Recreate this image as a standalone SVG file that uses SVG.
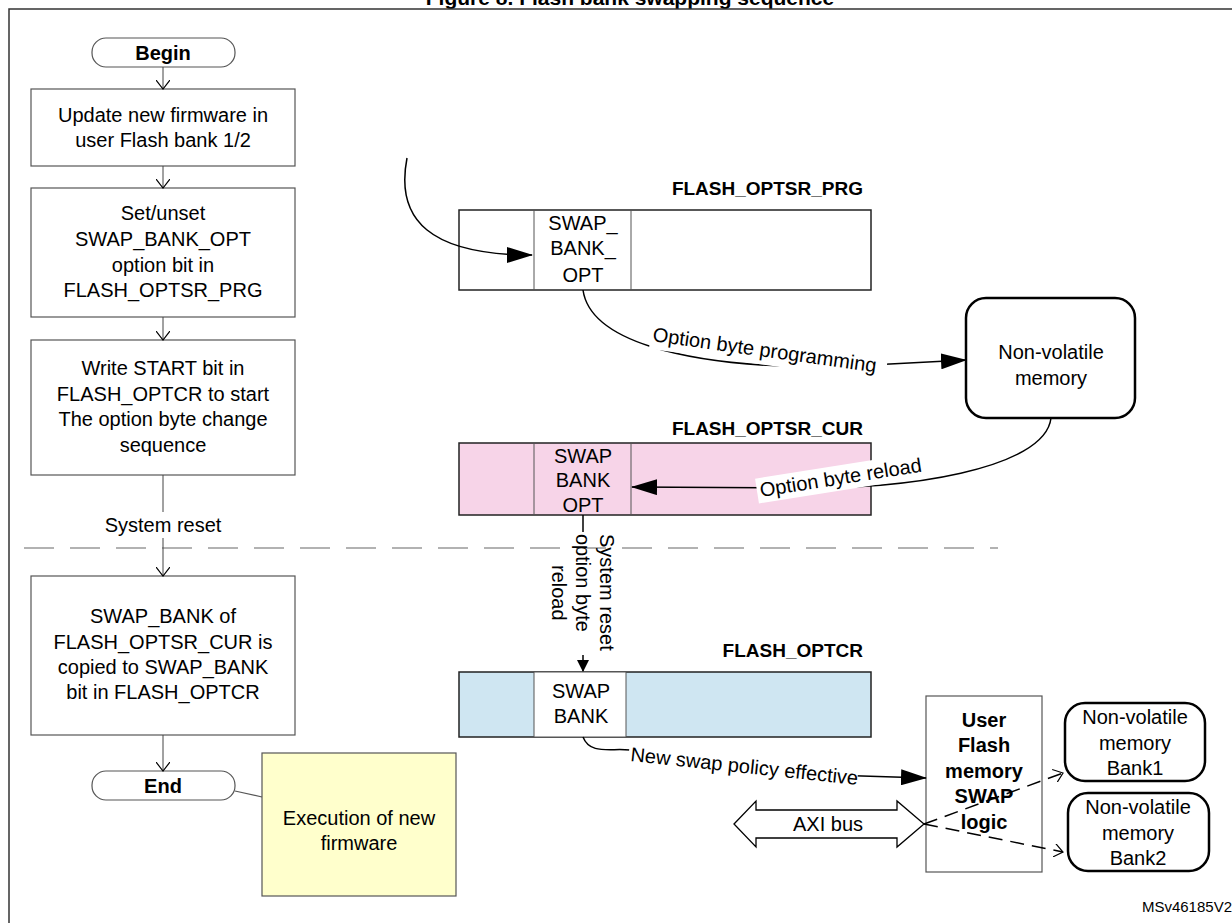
<svg xmlns="http://www.w3.org/2000/svg" width="1232" height="923" viewBox="0 0 1232 923">
<defs>
<marker id="fa" markerWidth="12" markerHeight="12" refX="11" refY="6" orient="auto" markerUnits="userSpaceOnUse"><path d="M0,0 L12,6 L0,12 z" fill="#000"/></marker>
<marker id="oa" markerWidth="10" markerHeight="14" refX="9" refY="7" orient="auto" markerUnits="userSpaceOnUse"><path d="M0,0 L9,7 L0,14" fill="none" stroke="#000" stroke-width="1.2"/></marker>
<marker id="big" markerWidth="26" markerHeight="16" refX="25" refY="8" orient="auto" markerUnits="userSpaceOnUse"><path d="M0,0 L26,8 L0,16 z" fill="#000"/></marker>
</defs>
<style>
text{font-family:"Liberation Sans",Arial,sans-serif;fill:#000}
.t{font-size:20px;text-anchor:middle}
.b{font-size:20px;font-weight:bold;text-anchor:middle}
.r{font-size:19px;font-weight:bold;text-anchor:end}
.box{fill:#fff;stroke:#555;stroke-width:1.2}
.reg{stroke:#222;stroke-width:1.5}
.ln{fill:none;stroke:#000;stroke-width:1.5}
.thin{fill:none;stroke:#444;stroke-width:1}
</style>
<rect width="1232" height="923" fill="#fff"/>
<text x="630" y="5" font-size="21" font-weight="bold" text-anchor="middle">Figure 8. Flash bank swapping sequence</text>
<path d="M9,923 V9 H1232" fill="none" stroke="#333" stroke-width="1.5"/>
<line x1="24" y1="548" x2="998" y2="548" stroke="#999" stroke-width="1.3" stroke-dasharray="30,16"/>

<g id="begin"><rect x="92" y="38" width="143" height="29" rx="14" class="box"/><text x="163" y="60" class="b">Begin</text></g>
<g id="step1"><rect x="31" y="89" width="264" height="77" class="box"/><text x="163" y="122" class="t">Update new firmware in</text><text x="163" y="147" class="t">user Flash bank 1/2</text></g>
<g id="step2"><rect x="31" y="188" width="264" height="129" class="box"/><text x="163" y="220" class="t">Set/unset</text><text x="163" y="246" class="t">SWAP_BANK_OPT</text><text x="163" y="272" class="t">option bit in</text><text x="163" y="297" class="t">FLASH_OPTSR_PRG</text></g>
<g id="step3"><rect x="31" y="340" width="264" height="135" class="box"/><text x="163" y="375" class="t">Write START bit in</text><text x="163" y="401" class="t">FLASH_OPTCR to start</text><text x="163" y="426" class="t">The option byte change</text><text x="163" y="452" class="t">sequence</text></g>
<g id="sysreset"><text x="163" y="532" class="t">System reset</text></g>
<g id="step4"><rect x="31" y="576" width="264" height="159" class="box"/><text x="163" y="623" class="t">SWAP_BANK of</text><text x="163" y="649" class="t">FLASH_OPTSR_CUR is</text><text x="163" y="674" class="t">copied to SWAP_BANK</text><text x="163" y="699" class="t">bit in FLASH_OPTCR</text></g>
<g id="end"><rect x="92" y="771" width="143" height="29" rx="14" class="box"/><text x="163" y="793" class="b">End</text></g>
<g id="exec"><rect x="262" y="753" width="194" height="143" fill="#ffffcc" stroke="#555" stroke-width="1.2"/><text x="359" y="825" class="t">Execution of new</text><text x="359" y="850" class="t">firmware</text></g>

<g id="optsr_prg"><text x="863" y="195" class="r">FLASH_OPTSR_PRG</text><rect x="459" y="210" width="412" height="80" fill="#fff" class="reg"/><line x1="534" y1="210" x2="534" y2="290" stroke="#555"/><line x1="631" y1="210" x2="631" y2="290" stroke="#555"/><text x="583" y="230" class="t">SWAP_</text><text x="583" y="255" class="t">BANK_</text><text x="583" y="282" class="t">OPT</text></g>
<g id="nvm"><rect x="966" y="298" width="169" height="120" rx="20" fill="#fff" stroke="#000" stroke-width="2.5"/><text x="1051" y="359" class="t">Non-volatile</text><text x="1051" y="385" class="t">memory</text></g>
<g id="optsr_cur"><text x="863" y="435" class="r">FLASH_OPTSR_CUR</text><rect x="459" y="443" width="412" height="72" fill="#f7d4e8" class="reg"/><line x1="534" y1="443" x2="534" y2="515" stroke="#555"/><line x1="631" y1="443" x2="631" y2="515" stroke="#555"/><text x="583" y="463" class="t">SWAP</text><text x="583" y="487" class="t">BANK</text><text x="583" y="512" class="t">OPT</text></g>
<g id="optcr"><text x="863" y="657" class="r">FLASH_OPTCR</text><rect x="459" y="672" width="412" height="65" fill="#cfe6f2" class="reg"/><rect x="534" y="672" width="92" height="65" fill="#fff" stroke="#555"/><text x="581" y="698" class="t">SWAP</text><text x="581" y="723" class="t">BANK</text></g>
<g id="swaplogic"><rect x="926" y="696" width="116" height="176" class="box"/><text x="984" y="727" class="b">User</text><text x="984" y="752" class="b">Flash</text><text x="984" y="778" class="b">memory</text><text x="984" y="803" class="b">SWAP</text><text x="984" y="829" class="b">logic</text></g>
<g id="bank1"><rect x="1065" y="703" width="140" height="78" rx="20" fill="#fff" stroke="#000" stroke-width="2.5"/><text x="1135" y="724" class="t">Non-volatile</text><text x="1135" y="750" class="t">memory</text><text x="1135" y="775" class="t">Bank1</text></g>
<g id="bank2"><rect x="1068" y="793" width="141" height="78" rx="20" fill="#fff" stroke="#000" stroke-width="2.5"/><text x="1138" y="814" class="t">Non-volatile</text><text x="1138" y="840" class="t">memory</text><text x="1138" y="865" class="t">Bank2</text></g>
<g id="axi"><path d="M734,824 L756,801 V810 H897 V801 L924,824 L897,847 V838 H756 V847 z" fill="#fff" stroke="#000" stroke-width="1.3"/><text x="828" y="831" class="t">AXI bus</text></g>
<text x="1232" y="912" font-size="15" text-anchor="end">MSv46185V2</text>

<g id="connectors">
<line x1="163" y1="67" x2="163" y2="89" class="thin" marker-end="url(#oa)"/>
<line x1="163" y1="166" x2="163" y2="188" class="thin" marker-end="url(#oa)"/>
<line x1="163" y1="317" x2="163" y2="340" class="thin" marker-end="url(#oa)"/>
<line x1="163" y1="475" x2="163" y2="512" class="thin"/>
<line x1="163" y1="538" x2="163" y2="576" class="thin" marker-end="url(#oa)"/>
<line x1="163" y1="735" x2="163" y2="771" class="thin" marker-end="url(#oa)"/>
<line x1="235" y1="791" x2="262" y2="797" stroke="#555" stroke-width="1.2"/>
<path d="M407,158 C395,220 430,255 532,255" class="ln" marker-end="url(#big)"/>
<path d="M583,290 C590,340 680,365 812,367 L890,364 L966,360" class="ln" marker-end="url(#big)"/>
<g transform="translate(652,341) rotate(8)"><rect x="-2" y="-18" width="238" height="26" fill="#fff"/><text x="0" y="0" font-size="20">Option byte programming</text></g>
<path d="M1051,418 C1045,470 900,490 800,488 L632,487" class="ln" marker-end="url(#big)"/>
<g transform="translate(761,497) rotate(-9)"><rect x="-3" y="-19" width="172" height="25" fill="#fff"/><text x="0" y="0" font-size="20">Option byte reload</text></g>
<line x1="583" y1="515" x2="583" y2="532" class="ln"/>
<line x1="583" y1="655" x2="583" y2="671" class="ln" marker-end="url(#fa)"/>
<text transform="translate(600,534) rotate(90)" font-size="20">System reset</text>
<text transform="translate(576,534) rotate(90)" font-size="20">option byte</text>
<text transform="translate(552,565) rotate(90)" font-size="20">reload</text>
<path d="M583,737 C590,755 610,748 630,750 L830,775 L926,778" class="ln" marker-end="url(#big)"/>
<g transform="translate(630,761) rotate(6)"><rect x="-2" y="-18" width="230" height="25" fill="#fff"/><text x="0" y="0" font-size="20">New swap policy effective</text></g>
<line x1="924" y1="824" x2="1063" y2="773" stroke="#000" stroke-width="1.5" stroke-dasharray="14,8" marker-end="url(#oa)"/>
<line x1="924" y1="824" x2="1063" y2="852" stroke="#000" stroke-width="1.5" stroke-dasharray="14,8" marker-end="url(#oa)"/>
</g>
</svg>
